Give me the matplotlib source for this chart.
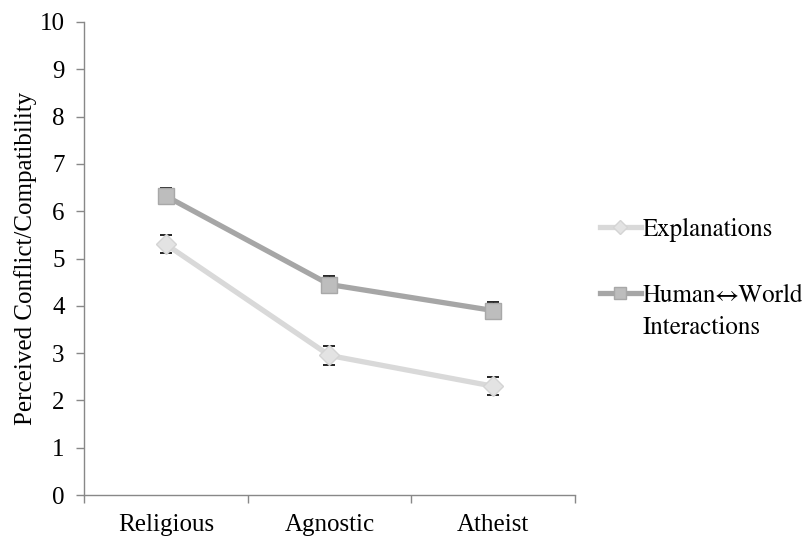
import matplotlib
matplotlib.use("Agg")
import matplotlib.pyplot as plt
from matplotlib.lines import Line2D
from matplotlib.ticker import FixedLocator, NullFormatter

plt.rcParams['font.family'] = ['Liberation Serif', 'DejaVu Serif']

categories = ["Religious", "Agnostic", "Atheist"]
explanations = [5.30, 2.95, 2.30]
explanations_err = [0.19, 0.20, 0.19]
interactions = [6.32, 4.45, 3.90]
interactions_err = [0.17, 0.18, 0.18]
series_labels = ["Explanations", "Human\u2194World\nInteractions"]

FS = 18
c1, f1, e1 = '#d9d9d9', '#e3e3e3', '#d4d4d4'
c2, f2, e2 = '#a6a6a6', '#bdbdbd', '#a8a8a8'

fig = plt.figure(figsize=(8.03, 5.37), dpi=100)
ax = fig.add_axes([84/803, 42/537, (575-84)/803, (495-22)/537])

x = [i + 0.5 for i in range(len(categories))]

ax.errorbar(x, explanations, yerr=explanations_err, color=c1, lw=3.8,
            marker='D', markersize=10, markerfacecolor=f1, markeredgecolor=e1,
            ecolor='black', elinewidth=0.9, capsize=4, capthick=1.2, zorder=3)
ax.errorbar(x, interactions, yerr=interactions_err, color=c2, lw=3.8,
            marker='s', markersize=12, markerfacecolor=f2, markeredgecolor=e2,
            ecolor='black', elinewidth=0.9, capsize=4, capthick=1.2, zorder=3)

ax.set_xlim(0, 3)
ax.set_ylim(0, 10)
ax.set_yticks(range(0, 11))
ax.set_xticks(x)
ax.set_xticklabels(categories, fontsize=FS)
ax.tick_params(axis='x', length=0, pad=14)
ax.xaxis.set_minor_locator(FixedLocator([0, 1, 2, 3]))
ax.xaxis.set_minor_formatter(NullFormatter())
ax.tick_params(axis='x', which='minor', length=6, color='#888888', width=1)
ax.tick_params(axis='y', labelsize=FS, length=6, color='#888888', width=1, pad=8)
for s in ['top', 'right']:
    ax.spines[s].set_visible(False)
for s in ['left', 'bottom']:
    ax.spines[s].set_color('#888888')
    ax.spines[s].set_linewidth(1)
ax.set_ylabel("Perceived Conflict/Compatibility", fontsize=FS, labelpad=2)

# manual legend (figure pixel coords converted to fractions)
W, H = 803, 537
def fx(px): return px / W
def fy(py): return 1 - py / H

legend_items = [
    (series_labels[0], c1, 'D', 7, f1, e1, 227),
    (series_labels[1], c2, 's', 9, f2, e2, 293),
]
for label, col, mk, ms, fc, ec, ypix in legend_items:
    fig.add_artist(Line2D([fx(600), fx(641)], [fy(ypix), fy(ypix)], transform=fig.transFigure,
                          color=col, lw=3.8))
    fig.add_artist(Line2D([fx(620.5)], [fy(ypix)], transform=fig.transFigure,
                          marker=mk, markersize=ms, markerfacecolor=fc, markeredgecolor=ec,
                          linestyle='none'))
    fig.text(fx(643), fy(ypix - 9), label, fontsize=FS, family='STIXGeneral',
             va='top', ha='left', linespacing=1.45)

fig.savefig("out.png", dpi=100)
